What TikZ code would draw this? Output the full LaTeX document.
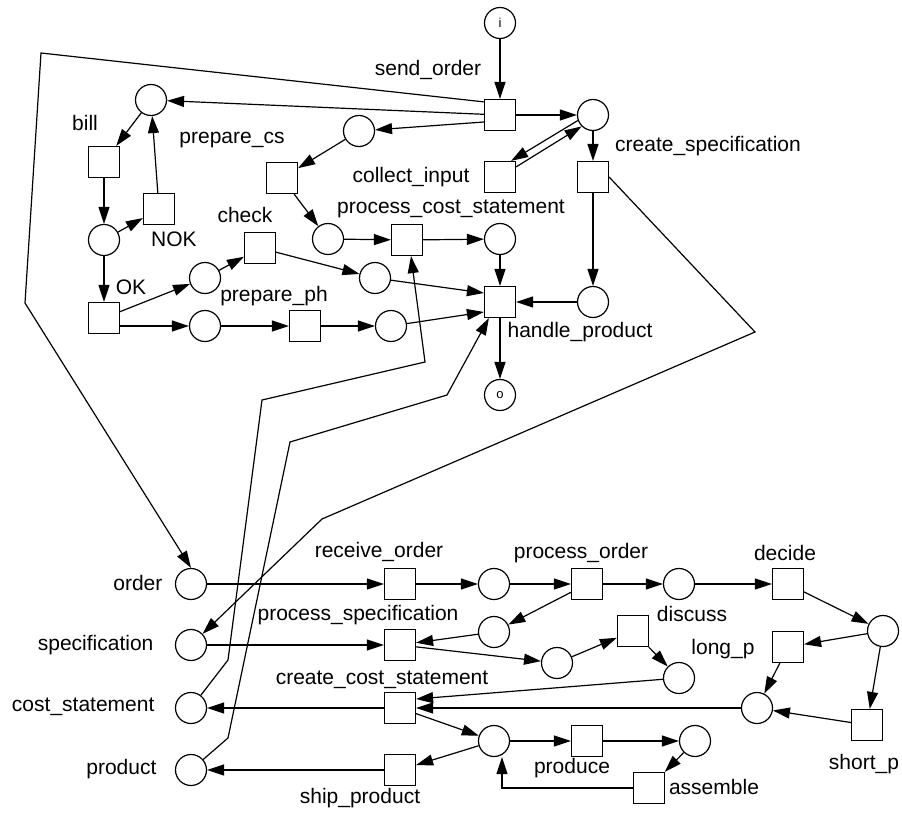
\documentclass[tikz,border=0pt]{standalone}
\usepackage{fontspec}
\setmainfont{Liberation Sans}
\usetikzlibrary{arrows.meta}
\begin{document}
\begin{tikzpicture}[x=1pt,y=-1pt, line width=1.2pt,
  place/.style={circle,draw,minimum size=31pt,inner sep=0pt},
  trans/.style={rectangle,draw,minimum size=31pt,inner sep=0pt},
  lbl/.style={font=\fontsize{21}{25}\selectfont,inner sep=0pt},
  small/.style={font=\fontsize{13}{15}\selectfont},
  arc/.style={-{Triangle[length=17pt,width=11pt]}}]
\useasboundingbox (0,0) rectangle (902,824);
% ---------- upper net ----------
\node[place,small] (pin) at (500,23) {i};
\node[trans] (so) at (500,115) {};
\node[place] (pa) at (593,115) {};
\node[trans] (ci) at (500,177) {};
\node[trans] (cs) at (593,177) {};
\node[place] (pb) at (593,302) {};
\node[trans] (hp) at (500,302) {};
\node[place,small] (pout) at (500,395) {o};
\node[place] (pc) at (500,239) {};
\node[trans] (pcs) at (407,240) {};
\node[place] (pd) at (328,239) {};
\node[trans] (pcst) at (282,178) {};
\node[place] (pe) at (359,131) {};
\node[place] (pf) at (151,100) {};
\node[trans] (bill) at (104,162) {};
\node[place] (pg) at (104,240) {};
\node[trans] (nok) at (159,209) {};
\node[trans] (ok) at (104,318) {};
\node[place] (ph) at (205,278) {};
\node[trans] (chk) at (260,248) {};
\node[place] (pj) at (375,278) {};
\node[place] (pk) at (205,326) {};
\node[trans] (pph) at (305,326) {};
\node[place] (pl) at (391,326) {};
% labels upper
\node[lbl] (l1) at (428,70) {send\_order};
\node[lbl] (l2) at (85,123) {bill};
\node[lbl] (l3) at (232,140) {prepare\_cs};
\node[lbl] (l4) at (411,177) {collect\_input};
\node[lbl] (l5) at (708,146) {create\_specification};
\node[lbl] (l6) at (245,215) {check};
\node[lbl] (l7) at (174,239) {NOK};
\node[lbl] (l8) at (451,209) {process\_cost\_statement};
\node[lbl] (l9) at (131,287) {OK};
\node[lbl] (l10) at (274,296) {prepare\_ph};
\node[lbl] (l11) at (580,332) {handle\_product};
% ---------- lower net ----------
\node[place] (order) at (191,584) {};
\node[place] (spec) at (191,645) {};
\node[place] (cost) at (191,708) {};
\node[place] (prod) at (191,770) {};
\node[trans] (ro) at (400,584) {};
\node[trans] (ps) at (400,645) {};
\node[trans] (ccs) at (400,708) {};
\node[trans] (sp) at (400,770) {};
\node[place] (q1) at (494,584) {};
\node[trans] (po2) at (587,584) {};
\node[place] (q2) at (679,584) {};
\node[trans] (dec) at (788,584) {};
\node[place] (q3) at (883,631) {};
\node[trans] (lp) at (788,647) {};
\node[trans] (shp) at (867,725) {};
\node[place] (q4) at (757,708) {};
\node[place] (q5) at (494,632) {};
\node[place] (q6) at (557,663) {};
\node[trans] (dis) at (633,631) {};
\node[place] (q7) at (679,678) {};
\node[place] (q8) at (494,741) {};
\node[trans] (pro) at (587,741) {};
\node[place] (q9) at (695,741) {};
\node[trans] (asm) at (649,788) {};
% labels lower
\node[lbl,anchor=east] (m1) at (163,583) {order};
\node[lbl,anchor=east] (m2) at (154,645) {specification};
\node[lbl,anchor=east] (m3) at (155,707) {cost\_statement};
\node[lbl,anchor=east] (m4) at (157,769) {product};
\node[lbl] (m5) at (379,552) {receive\_order};
\node[lbl] (m6) at (581,553) {process\_order};
\node[lbl] (m7) at (785,553) {decide};
\node[lbl] (m8) at (358,615) {process\_specification};
\node[lbl] (m9) at (692,614) {discuss};
\node[lbl] (m10) at (723,649) {long\_p};
\node[lbl] (m11) at (382,680) {create\_cost\_statement};
\node[lbl] (m12) at (864,764) {short\_p};
\node[lbl] (m13) at (572,768) {produce};
\node[lbl] (m14) at (714,787) {assemble};
\node[lbl] (m15) at (360,798) {ship\_product};
% bend points
\coordinate (w1) at (41,53);
\coordinate (w2) at (25,303);
\coordinate (s1) at (755,332);
\coordinate (s2) at (322,519);
\coordinate (c1) at (228,660);
\coordinate (c2) at (262,400);
\coordinate (c3) at (425,362);
\coordinate (d1) at (228,738);
\coordinate (d2) at (290,442);
\coordinate (d3) at (447,395);
% ---------- arcs upper ----------
\draw[arc] (pin) -- (so);
\draw[arc] (so) -- (pa);
\draw[arc] (so) -- (pf);
\draw[arc] ([yshift=-7pt]so.west) -- (pe);
\draw[arc] (pa) -- (cs);
\draw[arc] (cs) -- (pb);
\draw[arc] (pb) -- (hp);
\draw[arc] (pa.200) -- ([xshift=-5pt]ci.north east);
\draw[arc] ([yshift=-6pt]ci.north east) -- (pa.225);
\draw[arc] (pe) -- (pcst);
\draw[arc] (pcst) -- (pd);
\draw[arc] (pd) -- (pcs);
\draw[arc] (pcs) -- (pc);
\draw[arc] (pc) -- (hp);
\draw[arc] (pf) -- (bill);
\draw[arc] (bill) -- (pg);
\draw[arc] (pg) -- (nok);
\draw[arc] (nok) -- (pf);
\draw[arc] (pg) -- (ok);
\draw[arc] (ok) -- (ph);
\draw[arc] (ph) -- (chk);
\draw[arc] (chk) -- (pj);
\draw[arc] (pj) -- ([yshift=9pt]hp.west);
\draw[arc] (ok.east |- pk) -- (pk);
\draw[arc] (pk) -- (pph);
\draw[arc] (pph) -- (pl);
\draw[arc] (pl) -- ([yshift=-10pt]hp.west);
\draw[arc] (hp) -- (pout);
% ---------- connecting arcs ----------
\draw[arc] ([yshift=-3pt]so.north west) -- (w1) -- (w2) -- (order.north);
\draw[arc] (cs.east) -- (s1) -- (s2) -- (spec);
\draw[arc] (cost) -- (c1) -- (c2) -- (c3) -- ([xshift=4pt]pcs.south);
\draw[arc] (prod) -- (d1) -- (d2) -- (d3) -- ([xshift=5pt]hp.south west);
% ---------- arcs lower ----------
\draw[arc] (order) -- (ro);
\draw[arc] (ro) -- (q1);
\draw[arc] (q1) -- (po2);
\draw[arc] (po2) -- (q2);
\draw[arc] (q2) -- (dec);
\draw[arc] (dec) -- (q3);
\draw[arc] (q3) -- (lp);
\draw[arc] (q3) -- (shp);
\draw[arc] (lp) -- (q4);
\draw[arc] (shp) -- (q4);
\draw[arc] (q4) -- (ccs);
\draw[arc] (po2) -- (q5);
\draw[arc] (q5) -- (ps);
\draw[arc] (spec) -- (ps);
\draw[arc] (ps) -- (q6);
\draw[arc] (q6) -- (dis);
\draw[arc] (dis) -- (q7);
\draw[arc] (q7) -- ([yshift=9pt]ccs.east);
\draw[arc] (ccs) -- (cost);
\draw[arc] (ccs) -- (q8);
\draw[arc] (q8) -- (pro);
\draw[arc] (pro) -- (q9);
\draw[arc] (q9) -- (asm);
\draw[arc] (asm.west) -| ([xshift=8pt]q8.south);
\draw[arc] (q8) -- (sp);
\draw[arc] (sp) -- (prod);
\end{tikzpicture}
\end{document}
